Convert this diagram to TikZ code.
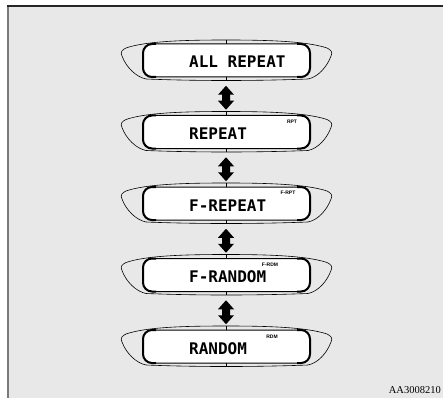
\documentclass[tikz,border=0pt]{standalone}
\usepackage{fontspec}
\setmainfont{Liberation Serif}
\newfontfamily\lcdfont{DejaVu Sans Mono}
\newfontfamily\indfont{Liberation Sans}
\usetikzlibrary{calc}
\definecolor{fons}{HTML}{E8E8E8}
\definecolor{vora}{HTML}{7A7A7A}

\tikzset{
  pantalla/.pic={
    % ala exterior
    \draw[line width=0.6pt]
      (-80,17) .. controls (-90,15) and (-100,5) .. (-104,-6)
      .. controls (-106,-10) and (-104,-12) .. (-100,-14)
      .. controls (-80,-21) and (-40,-22) .. (0,-22)
      .. controls (40,-22) and (80,-21) .. (101,-14)
      .. controls (105,-12) and (107,-10) .. (105,-6)
      .. controls (101,5) and (92,15) .. (82,17)
      .. controls (30,19) and (-30,19) .. cycle;
    % pantalla
    \draw[fill=white, line width=1pt, rounded corners=9pt] (-83,-18) rectangle (84,15);
    \draw[line width=2pt, rounded corners=9pt] (-70,-18) -- (-83,-18) -- (-83,15) -- (-70,15);
    \draw[line width=2pt, rounded corners=9pt] (71,-18) -- (84,-18) -- (84,15) -- (71,15);
    % marques
    \draw[line width=0.4pt] (0,-22) -- (0,-18) (0,15) -- (0,18);
  }
}

\begin{document}
\begin{tikzpicture}[
    x=1pt, y=-1pt,
    lcd/.style={anchor=base west, inner sep=0pt, font=\lcdfont\bfseries\fontsize{16}{16}\selectfont},
    ind/.style={inner sep=0pt, font=\indfont\bfseries\fontsize{5}{5}\selectfont}
]
\useasboundingbox (0,0) rectangle (443,398);

% Fons
\fill[fons] (8,6) rectangle (443,398);
\draw[vora, line width=2pt] (8,6) -- (8,398);
\draw[black!85, line width=1.2pt] (7,6) -- (443,6);

% Pantalles
\coordinate (c1) at (226,62);
\coordinate (c2) at (226,133.5);
\coordinate (c3) at (226,205);
\coordinate (c4) at (226,276.5);
\coordinate (c5) at (226,348);
\foreach \i in {1,...,5} {
  \pic at (c\i) {pantalla};
}

% Textos
\node[lcd] (t1) at ($(c1)+(-37,6)$) {ALL REPEAT};
\node[lcd] (t2) at ($(c2)+(-37,6)$) {REPEAT};
\node[lcd] (t3) at ($(c3)+(-37,6)$) {F-REPEAT};
\node[lcd] (t4) at ($(c4)+(-37,6)$) {F-RANDOM};
\node[lcd] (t5) at ($(c5)+(-37,6)$) {RANDOM};

% Indicadors
\node[ind] (i2) at ($(c2)+(66,-12)$) {RPT};
\node[ind] (i3) at ($(c3)+(62,-12)$) {F-RPT};
\node[ind] (i4) at ($(c4)+(44,-12)$) {F-RDM};
\node[ind] (i5) at ($(c5)+(46,-11)$) {RDM};

% Fletxes
\foreach \i/\j in {1/2,2/3,3/4,4/5} {
  \coordinate (f\i) at ($(c\i)!0.5!(c\j)$);
  \fill (f\i) ++(0,-12) -- ++(8,9) -- ++(-4,0) -- ++(0,6) -- ++(4,0)
    -- ++(-8,9) -- ++(-8,-9) -- ++(4,0) -- ++(0,-6) -- ++(-4,0) -- cycle;
}

% Codi
\node[anchor=base east, inner sep=0pt, font=\fontsize{10.5}{10.5}\selectfont] (codi) at (441,393) {AA3008210};
\end{tikzpicture}
\end{document}
